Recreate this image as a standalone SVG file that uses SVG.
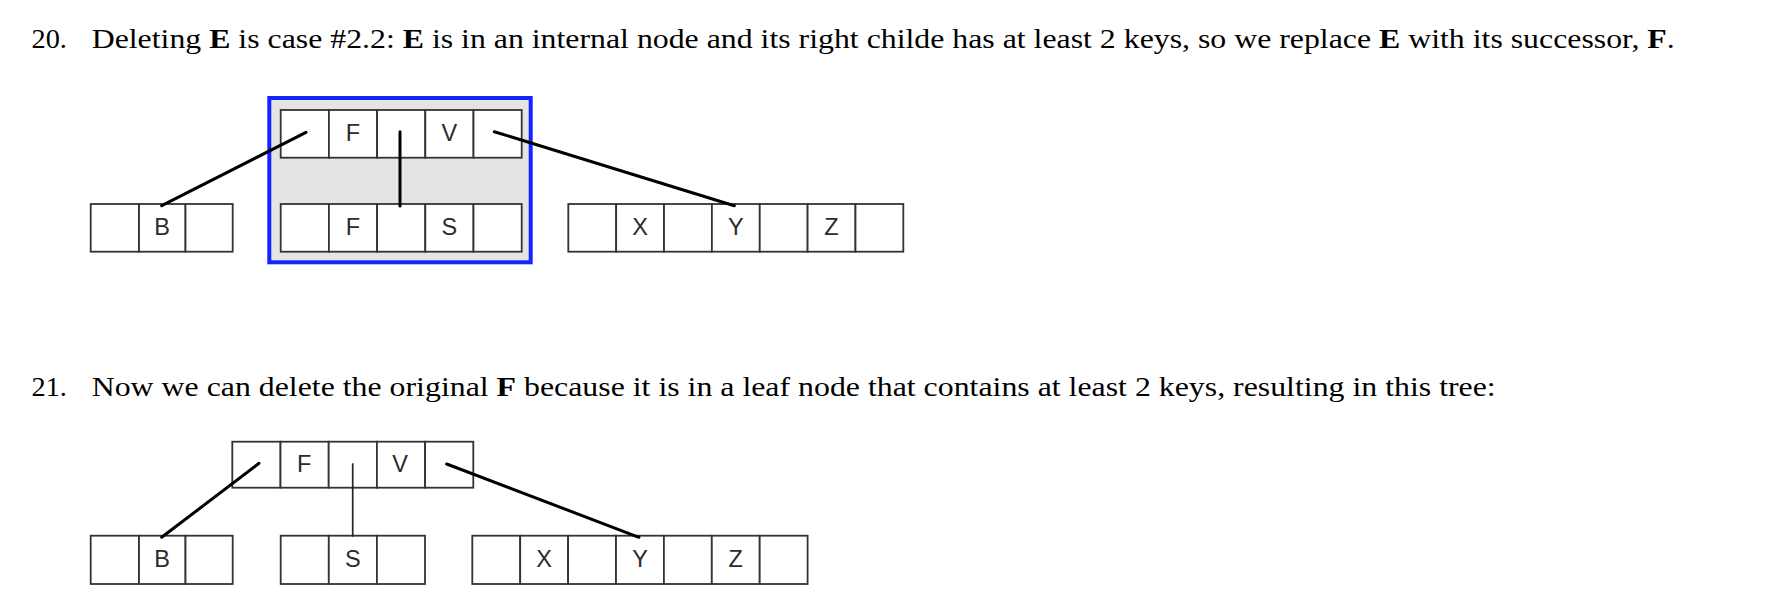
<svg xmlns="http://www.w3.org/2000/svg" width="1774" height="602" viewBox="0 0 1774 602">
<style>
.cap{font-family:"Liberation Serif","Times New Roman",serif;font-size:28.3px;fill:#000}
.b{font-weight:bold}
.cell{fill:#fff;stroke:#333;stroke-width:1.8}
.key{font-family:"Liberation Sans",Arial,sans-serif;font-size:23.5px;fill:#2b2b2b;text-anchor:middle}
.thick{stroke:#000;stroke-width:3;fill:none;stroke-linecap:round}
.thin{stroke:#222;stroke-width:1.7;fill:none}
</style>
<rect width="1774" height="602" fill="#fff"/>

<g id="caption20">
<text class="cap" x="31.5" y="47.5">20.</text>
<text class="cap" x="91.7" y="47.5" textLength="1583" lengthAdjust="spacingAndGlyphs">Deleting <tspan class="b">E</tspan> is case #2.2: <tspan class="b">E</tspan> is in an internal node and its right childe has at least 2 keys, so we replace <tspan class="b">E</tspan> with its successor, <tspan class="b">F</tspan>.</text>
</g>

<g id="highlight">
<rect x="269.3" y="98" width="261.4" height="164.3" fill="#e4e4e4" stroke="#1424ff" stroke-width="4"/>
</g>

<g id="d1-root">
<rect class="cell" x="280.7" y="110" width="48.2" height="47.7"/>
<rect class="cell" x="328.9" y="110" width="48.2" height="47.7"/>
<rect class="cell" x="377.1" y="110" width="48.2" height="47.7"/>
<rect class="cell" x="425.3" y="110" width="48.2" height="47.7"/>
<rect class="cell" x="473.5" y="110" width="48.2" height="47.7"/>
<text class="key" x="353" y="140.5">F</text>
<text class="key" x="449.4" y="140.5">V</text>
</g>

<g id="d1-leafFS">
<rect class="cell" x="280.7" y="204" width="48.2" height="47.7"/>
<rect class="cell" x="328.9" y="204" width="48.2" height="47.7"/>
<rect class="cell" x="377.1" y="204" width="48.2" height="47.7"/>
<rect class="cell" x="425.3" y="204" width="48.2" height="47.7"/>
<rect class="cell" x="473.5" y="204" width="48.2" height="47.7"/>
<text class="key" x="353" y="235">F</text>
<text class="key" x="449.4" y="235">S</text>
</g>

<g id="d1-leafB">
<rect class="cell" x="90.7" y="204" width="48.3" height="47.7"/>
<rect class="cell" x="139" y="204" width="46.5" height="47.7"/>
<rect class="cell" x="185.5" y="204" width="47.2" height="47.7"/>
<text class="key" x="162" y="235">B</text>
</g>

<g id="d1-leafXYZ">
<rect class="cell" x="568.3" y="204" width="47.86" height="47.7"/>
<rect class="cell" x="616.16" y="204" width="47.86" height="47.7"/>
<rect class="cell" x="664.02" y="204" width="47.86" height="47.7"/>
<rect class="cell" x="711.88" y="204" width="47.86" height="47.7"/>
<rect class="cell" x="759.74" y="204" width="47.86" height="47.7"/>
<rect class="cell" x="807.6" y="204" width="47.86" height="47.7"/>
<rect class="cell" x="855.46" y="204" width="47.86" height="47.7"/>
<text class="key" x="640.1" y="235">X</text>
<text class="key" x="735.8" y="235">Y</text>
<text class="key" x="831.5" y="235">Z</text>
</g>

<g id="d1-connectors">
<line class="thick" x1="306" y1="132.3" x2="161.7" y2="205.7"/>
<line class="thick" x1="400" y1="131.7" x2="400" y2="206"/>
<line class="thick" x1="494.3" y1="131.7" x2="734.3" y2="205.7"/>
</g>

<g id="caption21">
<text class="cap" x="31.5" y="395.5">21.</text>
<text class="cap" x="91.7" y="395.5" textLength="1404" lengthAdjust="spacingAndGlyphs">Now we can delete the original <tspan class="b">F</tspan> because it is in a leaf node that contains at least 2 keys, resulting in this tree:</text>
</g>

<g id="d2-root">
<rect class="cell" x="232.3" y="441.7" width="48.2" height="46"/>
<rect class="cell" x="280.5" y="441.7" width="48.2" height="46"/>
<rect class="cell" x="328.7" y="441.7" width="48.2" height="46"/>
<rect class="cell" x="376.9" y="441.7" width="48.2" height="46"/>
<rect class="cell" x="425.1" y="441.7" width="48.2" height="46"/>
<text class="key" x="304.3" y="471.5">F</text>
<text class="key" x="400" y="471.5">V</text>
</g>

<g id="d2-leafB">
<rect class="cell" x="90.7" y="535.7" width="48.3" height="48.3"/>
<rect class="cell" x="139" y="535.7" width="46.5" height="48.3"/>
<rect class="cell" x="185.5" y="535.7" width="47.2" height="48.3"/>
<text class="key" x="162" y="567">B</text>
</g>

<g id="d2-leafS">
<rect class="cell" x="280.7" y="535.7" width="48.1" height="48.3"/>
<rect class="cell" x="328.8" y="535.7" width="48.1" height="48.3"/>
<rect class="cell" x="376.9" y="535.7" width="48.1" height="48.3"/>
<text class="key" x="352.8" y="567">S</text>
</g>

<g id="d2-leafXYZ">
<rect class="cell" x="472.3" y="535.7" width="47.9" height="48.3"/>
<rect class="cell" x="520.2" y="535.7" width="47.9" height="48.3"/>
<rect class="cell" x="568.1" y="535.7" width="47.9" height="48.3"/>
<rect class="cell" x="616" y="535.7" width="47.9" height="48.3"/>
<rect class="cell" x="663.9" y="535.7" width="47.9" height="48.3"/>
<rect class="cell" x="711.8" y="535.7" width="47.9" height="48.3"/>
<rect class="cell" x="759.7" y="535.7" width="47.9" height="48.3"/>
<text class="key" x="544.2" y="567">X</text>
<text class="key" x="640" y="567">Y</text>
<text class="key" x="735.8" y="567">Z</text>
</g>

<g id="d2-connectors">
<line class="thick" x1="259" y1="463.3" x2="161.7" y2="537.3"/>
<line class="thin" x1="352.7" y1="463.3" x2="352.7" y2="536.7"/>
<line class="thick" x1="446.7" y1="464" x2="639" y2="537.3"/>
</g>
</svg>
